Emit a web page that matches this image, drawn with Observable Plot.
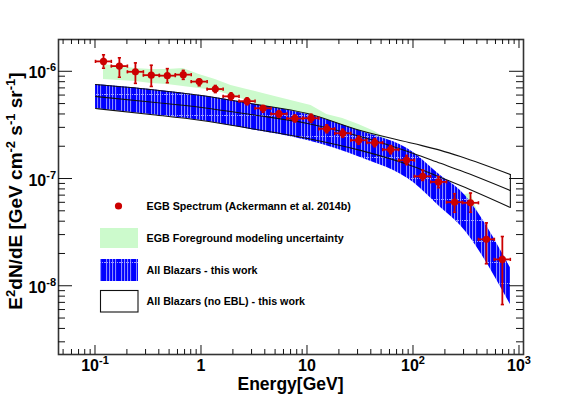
<!DOCTYPE html>
<html><head><meta charset="utf-8">
<script src="https://cdn.jsdelivr.net/npm/d3@7"></script>
<script src="https://cdn.jsdelivr.net/npm/@observablehq/plot@0.6"></script>
<style>body{margin:0;background:#fff} svg{display:block}</style>
</head><body><div id="chart"></div>
<script>
// ---- data (flux values in units of 1e-6 GeV cm^-2 s^-1 sr^-1) ----
const UNIT = 1e-6;
const egbEnergy = [0.119,0.168,0.238,0.336,0.476,0.673,0.951,1.35,1.90,2.69,3.81,5.38,7.61,10.8,15.2,21.5,30.4,43.1,60.9,86.1,122,172,244,345,487,689];
const egbBinLow = [0.1,0.141,0.2,0.283,0.4,0.566,0.8,1.13,1.6,2.26,3.2,4.53,6.4,9.05,12.8,18.1,25.6,36.2,51.2,72.4,102,145,205,290,410,579];
const egbBinHigh = [0.141,0.2,0.283,0.4,0.566,0.8,1.13,1.6,2.26,3.2,4.53,6.4,9.05,12.8,18.1,25.6,36.2,51.2,72.4,102,145,205,290,410,579,819];
const egbFlux = [1.25,1.13,1.00,0.93,0.92,0.94,0.81,0.69,0.59,0.532,0.457,0.405,0.367,0.369,0.294,0.267,0.230,0.218,0.188,0.150,0.106,0.094,0.0608,0.060,0.0274,0.0178];
const egbErrLow = [1.08,0.89,0.78,0.73,0.79,0.85,0.74,0.64,0.548,0.492,0.42,0.377,0.340,0.338,0.270,0.245,0.211,0.200,0.172,0.136,0.097,0.083,0.049,0.049,0.0162,0.00675];
const egbErrHigh = [1.44,1.35,1.21,1.15,1.07,1.03,0.85,0.745,0.637,0.572,0.485,0.436,0.395,0.402,0.320,0.291,0.251,0.238,0.205,0.166,0.121,0.1055,0.073,0.074,0.039,0.0291];

const fgHigh = [1.169,1.119,1.074,1.050,1.050,1.074,0.944,0.848,0.745,0.684,0.628,0.576,0.528,0.485,0.400,0.367,0.322,0.277,0.224,0.185,0.140,0.1055,0.0687,0.0733,0.0317,0.0198];
const fgLow = [0.848,0.830,0.812,0.778,0.762,0.729,0.698,0.670,0.601,0.539,0.474,0.417,0.375,0.337,0.302,0.266,0.229,0.197,0.166,0.140,0.108,0.0834,0.0566,0.0410,0.0215,0.0146];

const bandEnergy = [0.1,0.33,1,2.9,10,31.6,100,180,277,820];
const blazarHigh = [0.761,0.684,0.601,0.506,0.400,0.280,0.177,0.108,0.0781,0.0149];
const blazarLow = [0.455,0.400,0.351,0.290,0.229,0.159,0.0927,0.0542,0.0368,0.00675];
const noEblHigh = [0.761,0.684,0.601,0.506,0.408,0.283,0.214,0.185,0.162,0.110];
const noEblMid = [0.588,0.523,0.465,0.400,0.330,0.249,0.173,0.140,0.120,0.0781];
const noEblLow = [0.455,0.400,0.351,0.296,0.239,0.185,0.131,0.1034,0.0869,0.0542];

const xTicks = [0.1,1,10,100,1000];
const xTickLabels = [["10","-1"],["1",""],["10",""],["10","2"],["10","3"]];
const yTicks = [1e-8,1e-7,1e-6];
const yTickLabels = [["10","-8"],["10","-7"],["10","-6"]];
const legendLabels = ["EGB Spectrum (Ackermann et al. 2014b)","EGB Foreground modeling uncertainty","All Blazars - this work","All Blazars (no EBL) - this work"];

(function(){
const egb = egbEnergy.map((e,i)=>({e, f:egbFlux[i]*UNIT, lo:egbErrLow[i]*UNIT, hi:egbErrHigh[i]*UNIT, x1:egbBinLow[i], x2:egbBinHigh[i]}));
const fg = egbEnergy.map((e,i)=>({e, lo:fgLow[i]*UNIT, hi:fgHigh[i]*UNIT}));
const band = bandEnergy.map((e,i)=>({e, bh:blazarHigh[i]*UNIT, bl:blazarLow[i]*UNIT, nh:noEblHigh[i]*UNIT, nm:noEblMid[i]*UNIT, nl:noEblLow[i]*UNIT}));
const bandEnd = [band[band.length-1]];

const RED = "#cc0000";
const hCap = {draw(ctx,size){const r=Math.sqrt(size/Math.PI);ctx.moveTo(-r,0);ctx.lineTo(r,0);}};
const vCap = {draw(ctx,size){const r=Math.sqrt(size/Math.PI);ctx.moveTo(0,-r);ctx.lineTo(0,r);}};

const W=581,H=394, ML=58, MR=58, MT=39, MB=40;
const plot = Plot.plot({
  width:W, height:H, marginLeft:ML, marginRight:MR, marginTop:MT, marginBottom:MB,
  style:{fontFamily:"'Liberation Sans', Arial, sans-serif", background:"#fff"},
  x:{type:"log", domain:[0.04477,1091], axis:null},
  y:{type:"log", domain:[2.31e-9,2.0e-6], axis:null},
  marks:[
    Plot.areaY(fg,{x:"e", y1:"lo", y2:"hi", fill:"#ccfacc"}),
    Plot.areaY(band,{x:"e", y1:"bl", y2:"bh", fill:"url(#blazarFill)", curve:"monotone-x"}),
    Plot.line(band,{x:"e", y:"nh", stroke:"#111", strokeWidth:1.1, curve:"monotone-x"}),
    Plot.line(band,{x:"e", y:"nm", stroke:"#111", strokeWidth:1.1, curve:"monotone-x"}),
    Plot.line(band,{x:"e", y:"nl", stroke:"#111", strokeWidth:1.1, curve:"monotone-x"}),
    Plot.ruleX(bandEnd,{x:"e", y1:"nl", y2:"nh", stroke:"#111", strokeWidth:1.1}),
    Plot.ruleX(egb,{x:"e", y1:"lo", y2:"hi", stroke:RED, strokeWidth:1.8}),
    Plot.ruleY(egb,{y:"f", x1:"x1", x2:"x2", stroke:RED, strokeWidth:1.8}),
    Plot.dot(egb,{x:"e", y:"lo", symbol:hCap, r:1.6, fill:"none", stroke:RED, strokeWidth:1.6}),
    Plot.dot(egb,{x:"e", y:"hi", symbol:hCap, r:1.6, fill:"none", stroke:RED, strokeWidth:1.6}),
    Plot.dot(egb,{x:"x1", y:"f", symbol:vCap, r:1.6, fill:"none", stroke:RED, strokeWidth:1.6}),
    Plot.dot(egb,{x:"x2", y:"f", symbol:vCap, r:1.6, fill:"none", stroke:RED, strokeWidth:1.6}),
    Plot.dot(egb,{x:"e", y:"f", r:3.6, fill:RED, stroke:"none"}),
    Plot.frame({stroke:"#333", strokeWidth:1.6})
  ]
});
document.getElementById("chart").appendChild(plot);

const svg = d3.select(plot);
const defs = svg.insert("defs",":first-child");
const pat = defs.append("pattern").attr("id","blazarFill").attr("patternUnits","userSpaceOnUse").attr("width",15).attr("height",21);
pat.append("rect").attr("width",15).attr("height",21).attr("fill","#0000ff");
[1,4,7,10].forEach(x=>pat.append("rect").attr("x",x).attr("y",0).attr("width",1.1).attr("height",21).attr("fill","#8c8cff"));
pat.append("line").attr("x1",0).attr("x2",15).attr("y1",10.5).attr("y2",10.5).attr("stroke","#c8c8ff").attr("stroke-width",0.8).attr("stroke-dasharray","1,1");

const sx = plot.scale("x"), sy = plot.scale("y");
const X = v=>sx.apply(v), Y = v=>sy.apply(v);
const pl=ML, pr=W-MR, pt=MT, pb=H-MB;
const g = svg.append("g").attr("stroke","#111").attr("stroke-width",1);
function inX(v){const p=X(v);return p>pl+1&&p<pr-1;}
function inY(v){const p=Y(v);return p>pt+1&&p<pb-1;}
for(let d=-2; d<=3; d++){
  for(let m=1;m<=9;m++){
    const v = m*Math.pow(10,d);
    if(!inX(v)) continue;
    const len = m===1?9:5, p=X(v);
    g.append("line").attr("x1",p).attr("x2",p).attr("y1",pb).attr("y2",pb-len);
    g.append("line").attr("x1",p).attr("x2",p).attr("y1",pt).attr("y2",pt+len);
  }
}
for(let d=-10; d<=-5; d++){
  for(let m=1;m<=9;m++){
    const v = m*Math.pow(10,d);
    if(!inY(v)) continue;
    const len = m===1?14:7, p=Y(v);
    g.append("line").attr("y1",p).attr("y2",p).attr("x1",pl).attr("x2",pl+len);
    g.append("line").attr("y1",p).attr("y2",p).attr("x1",pr).attr("x2",pr-len);
  }
}
const font = "'Liberation Sans', Arial, sans-serif";
xTicks.forEach((v,i)=>{
  const t = svg.append("text").attr("x",X(v)).attr("y",pb+16.5).attr("text-anchor","middle")
    .attr("font-family",font).attr("font-weight","bold").attr("font-size",16).attr("fill","#000");
  t.append("tspan").text(xTickLabels[i][0]);
  if(xTickLabels[i][1]) t.append("tspan").attr("dy",-7).attr("font-size",11).text(xTickLabels[i][1]);
});
yTicks.forEach((v,i)=>{
  const t = svg.append("text").attr("x",pl-2).attr("y",Y(v)+7).attr("text-anchor","end")
    .attr("font-family",font).attr("font-weight","bold").attr("font-size",16).attr("fill","#000");
  t.append("tspan").text(yTickLabels[i][0]);
  t.append("tspan").attr("dy",-7).attr("font-size",11).text(yTickLabels[i][1]);
});
svg.append("text").attr("x",(pl+pr)/2).attr("y",H-4).attr("text-anchor","middle")
  .attr("font-family",font).attr("font-weight","bold").attr("font-size",17.5).text("Energy[GeV]");
const yt = svg.append("text").attr("transform","translate(21.5,191) rotate(-90)").attr("text-anchor","middle")
  .attr("font-family",font).attr("font-weight","bold").attr("font-size",19);
yt.append("tspan").text("E");
yt.append("tspan").attr("dy",-7).attr("font-size",13).text("2");
yt.append("tspan").attr("dy",7).text("dN/dE [GeV cm");
yt.append("tspan").attr("dy",-7).attr("font-size",13).text("-2");
yt.append("tspan").attr("dy",7).text(" s");
yt.append("tspan").attr("dy",-7).attr("font-size",13).text("-1");
yt.append("tspan").attr("dy",7).text(" sr");
yt.append("tspan").attr("dy",-7).attr("font-size",13).text("-1");
yt.append("tspan").attr("dy",7).text("]");

const lg = svg.append("g").attr("font-family",font).attr("font-weight","bold").attr("font-size",10.7).attr("text-anchor","start");
lg.append("circle").attr("cx",118.5).attr("cy",206).attr("r",3.6).attr("fill",RED);
lg.append("rect").attr("x",100).attr("y",228).attr("width",38).attr("height",20).attr("fill","#ccfacc");
lg.append("rect").attr("x",100).attr("y",259).attr("width",38).attr("height",22).attr("fill","url(#blazarFill)");
lg.append("rect").attr("x",100.5).attr("y",290.5).attr("width",37.5).attr("height",21.5).attr("fill","#fff").attr("stroke","#111").attr("stroke-width",1.1);
[206,238,270,301].forEach((y,i)=>lg.append("text").attr("x",146.5).attr("y",y+4).attr("text-anchor","start").text(legendLabels[i]));
})();
</script>
</body></html>
